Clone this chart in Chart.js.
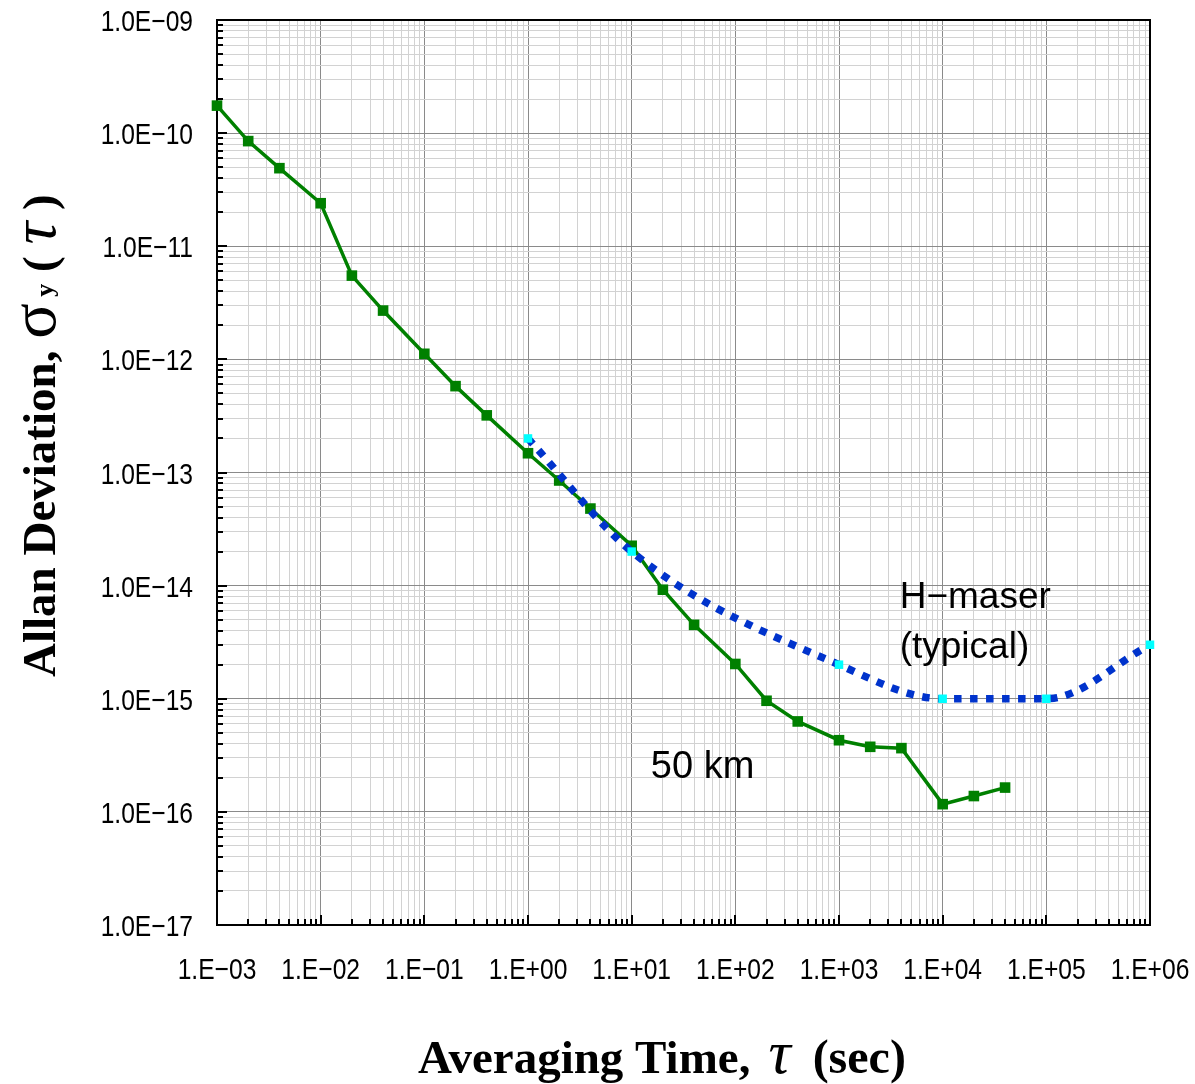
<!DOCTYPE html>
<html>
<head>
<meta charset="utf-8">
<title>Allan Deviation</title>
<script src="https://cdn.jsdelivr.net/npm/chart.js@4.4.1/dist/chart.umd.min.js"></script>
<style>
  html, body { margin: 0; padding: 0; background: #fff; }
  #wrap { width: 1195px; height: 1084px; }
</style>
</head>
<body>
<div id="wrap"><canvas id="adevChart" width="1195" height="1084"></canvas></div>
<script>
// 50 km link: averaging time (s) and Allan deviation
const linkTau = [1e-3, 2e-3, 4e-3, 1e-2, 2e-2, 4e-2, 1e-1, 2e-1, 4e-1, 1, 2, 4,
                 10, 20, 40, 100, 200, 400, 1e3, 2e3, 4e3, 1e4, 2e4, 4e4];
const linkAdev = [1.75e-10, 8.5e-11, 4.9e-11, 2.4e-11, 5.5e-12, 2.7e-12, 1.12e-12, 5.8e-13,
                  3.2e-13, 1.48e-13, 8.5e-14, 4.8e-14, 2.25e-14, 9.2e-15, 4.5e-15, 2.03e-15,
                  9.6e-16, 6.3e-16, 4.3e-16, 3.76e-16, 3.66e-16, 1.17e-16, 1.38e-16, 1.64e-16];

// typical hydrogen maser
const maserTau = [1, 10, 1e3, 1e4, 1e5, 1e6];
const maserAdev = [2e-13, 2e-14, 2e-15, 1e-15, 1e-15, 3e-15];

// decade exponents and their labels
const xExponents = [-3, -2, -1, 0, 1, 2, 3, 4, 5, 6];
const xTickLabels = ['1.E\u221203', '1.E\u221202', '1.E\u221201', '1.E+00', '1.E+01',
                     '1.E+02', '1.E+03', '1.E+04', '1.E+05', '1.E+06'];
const yExponents = [-17, -16, -15, -14, -13, -12, -11, -10, -9];
const yTickLabels = ['1.0E\u221217', '1.0E\u221216', '1.0E\u221215', '1.0E\u221214', '1.0E\u221213',
                     '1.0E\u221212', '1.0E\u221211', '1.0E\u221210', '1.0E\u221209'];

const tickFont = "30px 'Liberation Sans', Arial, sans-serif";
const titleFont = "'Liberation Serif', 'Times New Roman', serif";
const noteFont = "'Liberation Sans', Arial, sans-serif";

function isDecade(v) {
    const l = Math.log10(v);
    return Math.abs(l - Math.round(l)) < 1e-6;
}

// 1..9 x 10^n for every decade, plus the closing decade
function logTicks(exps) {
    const ticks = [];
    for (let i = 0; i < exps.length - 1; i++) {
        for (let m = 1; m <= 9; m++) {
            ticks.push({ value: parseFloat(m + 'e' + exps[i]), major: m === 1 });
        }
    }
    ticks.push({ value: parseFloat('1e' + exps[exps.length - 1]), major: true });
    return ticks;
}

function toPoints(xs, ys) {
    return xs.map((x, i) => ({ x: x, y: ys[i] }));
}

// narrow tick lettering: regular face squeezed horizontally
function squeezedText(ctx, text, x, y, align) {
    ctx.save();
    ctx.translate(x, y);
    ctx.scale(0.82, 1);
    ctx.textAlign = align;
    ctx.fillText(text, 0, 0);
    ctx.restore();
}

// top/right frame and the inward tick marks
const framePlugin = {
    id: 'frame',
    beforeDatasetsDraw(chart) {
        const { ctx, chartArea: a, scales } = chart;
        ctx.save();
        ctx.strokeStyle = '#000';
        ctx.lineWidth = 2;
        ctx.beginPath();
        ctx.moveTo(a.left, a.top);
        ctx.lineTo(a.right, a.top);
        ctx.lineTo(a.right, a.bottom);
        ctx.stroke();

        scales.x.ticks.forEach(t => {
            const px = Math.round(scales.x.getPixelForValue(t.value));
            const len = isDecade(t.value) ? 10 : 6;
            ctx.beginPath();
            ctx.moveTo(px, a.bottom);
            ctx.lineTo(px, a.bottom - len);
            ctx.stroke();
        });
        scales.y.ticks.forEach(t => {
            const py = Math.round(scales.y.getPixelForValue(t.value));
            const len = isDecade(t.value) ? 10 : 6;
            ctx.beginPath();
            ctx.moveTo(a.left, py);
            ctx.lineTo(a.left + len, py);
            ctx.stroke();
        });
        ctx.restore();
    }
};

// decade labels on both axes
const tickLabelPlugin = {
    id: 'tickLabels',
    afterDraw(chart) {
        const { ctx, chartArea: a, scales } = chart;
        ctx.save();
        ctx.fillStyle = '#000';
        ctx.font = tickFont;
        ctx.textBaseline = 'alphabetic';
        xExponents.forEach((e, i) => {
            const px = scales.x.getPixelForValue(Math.pow(10, e));
            squeezedText(ctx, xTickLabels[i], px, a.bottom + 54, 'center');
        });
        yExponents.forEach((e, i) => {
            const py = scales.y.getPixelForValue(Math.pow(10, e));
            squeezedText(ctx, yTickLabels[i], a.left - 24, py + 11, 'right');
        });
        ctx.restore();
    }
};

// draws a run of differently styled pieces along one baseline
function drawRun(ctx, parts) {
    let x = 0;
    parts.forEach(p => {
        x += p.gap || 0;
        ctx.font = p.font;
        ctx.fillText(p.text, x, p.shift || 0);
        x += ctx.measureText(p.text).width;
    });
}

const titlePlugin = {
    id: 'axisTitles',
    afterDraw(chart) {
        const ctx = chart.ctx;
        ctx.save();
        ctx.fillStyle = '#000';
        ctx.textBaseline = 'alphabetic';
        ctx.textAlign = 'left';

        // y axis title, rotated
        ctx.save();
        ctx.translate(55, 677);
        ctx.rotate(-Math.PI / 2);
        drawRun(ctx, [
            { text: 'Allan Deviation, ', font: 'bold 47px ' + titleFont },
            { text: '\u03c3', font: '66px ' + titleFont },
            { text: ' y', font: 'bold 26px ' + titleFont, shift: -2 },
            { text: ' ( ', font: 'bold 47px ' + titleFont },
            { text: '\u03c4', font: 'italic 64px ' + titleFont },
            { text: ' )', font: 'bold 47px ' + titleFont }
        ]);
        ctx.restore();

        // x axis title
        ctx.save();
        ctx.translate(418, 1073);
        drawRun(ctx, [
            { text: 'Averaging Time,', font: 'bold 47px ' + titleFont },
            { text: '\u03c4', font: 'italic 62px ' + titleFont, gap: 18 },
            { text: '(sec)', font: 'bold 48px ' + titleFont, gap: 22 }
        ]);
        ctx.restore();

        // curve notes, placed in data coordinates
        const xs = chart.scales.x, ys = chart.scales.y;
        ctx.font = '37px ' + noteFont;
        ctx.fillText('H\u2212maser', xs.getPixelForValue(3.85e3), ys.getPixelForValue(6.4e-15));
        ctx.fillText('(typical)', xs.getPixelForValue(3.85e3), ys.getPixelForValue(2.3e-15));
        ctx.font = '38px ' + noteFont;
        ctx.fillText('50 km', xs.getPixelForValue(15.3), ys.getPixelForValue(2.0e-16));
        ctx.restore();
    }
};

const gridColor = ctx => isDecade(ctx.tick.value) ? '#8a8a8a' : '#d2d2d2';

new Chart(document.getElementById('adevChart'), {
    type: 'line',
    data: {
        datasets: [{
            label: 'H-maser (typical)',
            data: toPoints(maserTau, maserAdev),
            order: 0,
            borderColor: '#0033cc',
            borderWidth: 7.5,
            borderDash: [7.5, 8.5],
            borderCapStyle: 'butt',
            cubicInterpolationMode: 'monotone',
            pointStyle: 'rect',
            pointRadius: 6,
            pointBorderWidth: 0,
            pointBackgroundColor: '#00ffff',
            clip: false
        }, {
            label: '50 km',
            data: toPoints(linkTau, linkAdev),
            order: 1,
            borderColor: '#008000',
            borderWidth: 3.5,
            tension: 0,
            pointStyle: 'rect',
            pointRadius: 7.5,
            pointBorderWidth: 0,
            pointBackgroundColor: '#008000',
            clip: false
        }]
    },
    options: {
        responsive: false,
        devicePixelRatio: 1,
        animation: false,
        layout: { padding: { top: 20, right: 45, left: 0, bottom: 0 } },
        plugins: {
            legend: { display: false },
            tooltip: { enabled: false }
        },
        scales: {
            x: {
                type: 'logarithmic',
                min: 1e-3,
                max: 1e6,
                afterBuildTicks: scale => { scale.ticks = logTicks(xExponents); },
                afterFit: scale => { scale.height = 159; },
                grid: { color: gridColor, lineWidth: 1, drawTicks: false },
                border: { display: true, color: '#000', width: 2 },
                ticks: { display: false, padding: 0 }
            },
            y: {
                type: 'logarithmic',
                min: 1e-17,
                max: 1e-9,
                afterBuildTicks: scale => { scale.ticks = logTicks(yExponents); },
                afterFit: scale => { scale.width = 217; },
                grid: { color: gridColor, lineWidth: 1, drawTicks: false },
                border: { display: true, color: '#000', width: 2 },
                ticks: { display: false, padding: 0 }
            }
        }
    },
    plugins: [framePlugin, tickLabelPlugin, titlePlugin]
});
</script>
</body>
</html>
